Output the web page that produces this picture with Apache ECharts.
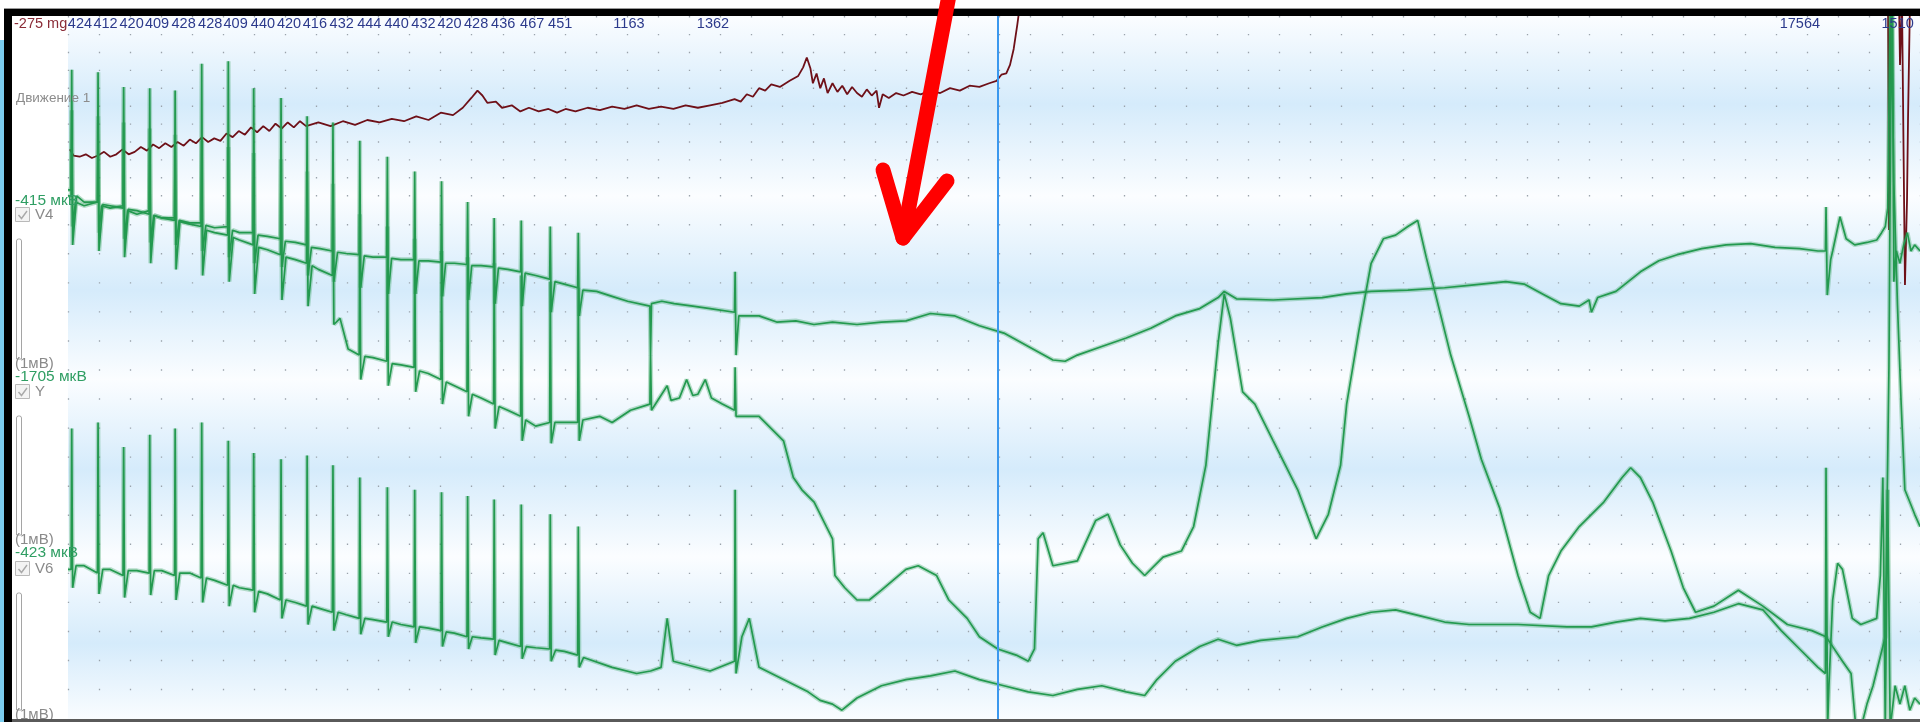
<!DOCTYPE html>
<html><head><meta charset="utf-8">
<script src="https://cdn.jsdelivr.net/npm/echarts@6/dist/echarts.min.js"></script>
<style>html,body{margin:0;padding:0;background:#fff}#c{width:1920px;height:722px}</style>
</head><body><div id="c"></div>
<script>
// RR intervals (ms) printed along the top, one per beat interval
const rrIntervals = [424,412,420,409,428,428,409,440,420,416,432,444,440,432,420,428,436,467,451,1163,1362,17564,1510];
const cursorTime = 14914; // ms
// Motion channel (mg-like units) : [time ms, value]
const motionTrace = [[-31,-220],[29,-270],[127,-280],[226,-260],[324,-290],[423,-270],[521,-240],[620,-280],[719,-260],[817,-220],[916,-260],[1014,-240],[1113,-200],[1211,-230],[1310,-180],[1408,-210],[1507,-170],[1605,-200],[1704,-160],[1803,-190],[1901,-140],[2000,-170],[2098,-120],[2197,-160],[2295,-130],[2394,-150],[2492,-90],[2591,-120],[2689,-70],[2788,-100],[2887,-40],[2985,-80],[3084,-30],[3182,-70],[3281,-10],[3379,-50],[3478,0],[3576,-40],[3675,10],[3774,-30],[3971,0],[4168,-30],[4365,10],[4562,-20],[4759,20],[4956,0],[5153,30],[5350,10],[5547,50],[5745,20],[5942,80],[6139,60],[6296,120],[6434,200],[6533,260],[6612,220],[6691,160],[6829,170],[6927,120],[7085,140],[7223,90],[7361,120],[7518,90],[7676,110],[7814,80],[7952,110],[8110,90],[8307,120],[8504,100],[8701,130],[8898,110],[9095,140],[9292,110],[9489,130],[9687,110],[9884,140],[10081,120],[10278,140],[10475,160],[10672,190],[10771,170],[10869,230],[10968,210],[11066,280],[11165,260],[11263,310],[11401,290],[11559,340],[11697,380],[11776,450],[11835,530],[11894,440],[11933,320],[11992,400],[12052,280],[12111,360],[12170,240],[12249,320],[12328,250],[12406,300],[12485,230],[12564,290],[12643,240],[12722,210],[12801,270],[12880,220],[12958,260],[12998,120],[13057,230],[13155,200],[13274,240],[13392,220],[13530,250],[13668,230],[13826,260],[13983,240],[14141,280],[14299,260],[14456,300],[14614,290],[14772,320],[14890,340],[14968,390],[15047,400],[15107,470],[15166,600],[15225,800],[15264,950],[15303,1000]];
const motionEnd = [[29243,1000],[29259,-878],[29291,1000],[29420,1000],[29436,469],[29468,1000],[29500,1000],[29516,-1327],[29549,-633],[29565,20],[29597,1000]];
// ECG channels (mV) : [time ms, value]
const v4Trace = [[-60,0.00],[-10,0.00],[0,1.03],[15,-0.25],[60,-0.05],[200,-0.08],[414,-0.05],[424,1.01],[439,-0.30],[480,-0.08],[620,-0.10],[826,-0.08],[836,0.89],[851,-0.35],[900,-0.12],[1050,-0.15],[1246,-0.12],[1256,0.88],[1271,-0.38],[1320,-0.16],[1450,-0.18],[1655,-0.18],[1665,0.86],[1680,-0.40],[1730,-0.2],[1900,-0.22],[2083,-0.22],[2093,1.08],[2108,-0.45],[2160,-0.24],[2300,-0.26],[2511,-0.25],[2521,1.10],[2536,-0.50],[2590,-0.28],[2700,-0.30],[2920,-0.30],[2930,0.88],[2945,-0.55],[3000,-0.32],[3150,-0.33],[3360,-0.35],[3370,0.80],[3385,-0.58],[3440,-0.37],[3600,-0.38],[3780,-0.40],[3790,0.65],[3805,-0.65],[3860,-0.42],[4000,-0.43],[4196,-0.45],[4206,0.60],[4221,-0.70],[4280,-0.46],[4420,-0.47],[4628,-0.48],[4638,0.45],[4653,-0.75],[4710,-0.49],[4850,-0.50],[5072,-0.50],[5082,0.32],[5097,-0.80],[5150,-0.51],[5300,-0.52],[5512,-0.52],[5522,0.20],[5537,-0.80],[5590,-0.53],[5740,-0.53],[5944,-0.54],[5954,0.12],[5969,-0.82],[6020,-0.55],[6160,-0.55],[6364,-0.56],[6374,-0.05],[6389,-0.85],[6440,-0.57],[6590,-0.57],[6792,-0.58],[6802,-0.18],[6817,-0.88],[6870,-0.59],[7020,-0.60],[7228,-0.62],[7238,-0.20],[7253,-0.90],[7300,-0.63],[7470,-0.65],[7695,-0.68],[7705,-0.25],[7720,-0.95],[7780,-0.70],[7930,-0.72],[8146,-0.75],[8156,-0.30],[8171,-0.98],[8230,-0.77],[8450,-0.78],[8700,-0.82],[8950,-0.86],[9309,-0.90],[9319,-1.30],[9334,-0.88],[9500,-0.86],[9700,-0.88],[10000,-0.90],[10280,-0.92],[10671,-0.95],[10681,-0.62],[10696,-1.30],[10740,-0.98],[11066,-0.98],[11350,-1.03],[11658,-1.02],[11950,-1.05],[12249,-1.03],[12643,-1.05],[13037,-1.03],[13431,-1.02],[13826,-0.96],[14220,-0.98],[14614,-1.06],[15008,-1.12],[15402,-1.23],[15797,-1.34],[15994,-1.35],[16191,-1.30],[16585,-1.23],[16979,-1.16],[17373,-1.08],[17768,-0.98],[18162,-0.92],[18458,-0.83],[18556,-0.78],[18753,-0.84],[19344,-0.85],[20133,-0.83],[20527,-0.80],[20921,-0.78],[21512,-0.77],[22104,-0.75],[22498,-0.73],[23089,-0.70],[23385,-0.72],[23681,-0.80],[23977,-0.88],[24272,-0.90],[24430,-0.85],[24469,-0.95],[24568,-0.83],[24863,-0.78],[25257,-0.62],[25553,-0.53],[25849,-0.48],[26243,-0.43],[26637,-0.40],[27031,-0.39],[27425,-0.42],[27820,-0.43],[28116,-0.45],[28235,-0.45],[28245,-0.09],[28265,-0.81],[28320,-0.52],[28352,-0.45],[28470,-0.17],[28569,-0.35],[28707,-0.40],[28904,-0.38],[29061,-0.36],[29140,-0.30],[29199,-0.25],[29238,-0.10],[29278,1.50],[29317,1.50],[29337,-0.70],[29376,-0.45],[29435,-0.55],[29495,-0.40],[29554,-0.30],[29613,-0.45],[29672,-0.40],[29760,-0.45]];
const yTrace = [[-60,1.50],[-10,1.50],[0,2.15],[15,1.05],[80,1.45],[200,1.40],[414,1.40],[424,2.10],[439,1.00],[500,1.38],[620,1.37],[826,1.35],[836,2.05],[851,0.95],[910,1.34],[1050,1.33],[1246,1.30],[1256,2.00],[1271,0.90],[1330,1.29],[1450,1.27],[1655,1.25],[1665,1.95],[1680,0.85],[1740,1.24],[1900,1.22],[2083,1.20],[2093,1.90],[2108,0.80],[2170,1.17],[2300,1.15],[2511,1.13],[2521,1.85],[2536,0.75],[2600,1.11],[2700,1.09],[2920,1.05],[2930,1.80],[2945,0.65],[3010,1.03],[3150,1.01],[3360,0.97],[3370,1.75],[3385,0.60],[3450,0.95],[3600,0.93],[3780,0.90],[3790,1.65],[3805,0.55],[3870,0.88],[3971,0.85],[4196,0.80],[4206,1.55],[4221,0.40],[4320,0.45],[4450,0.20],[4628,0.15],[4638,1.30],[4653,-0.05],[4720,0.14],[4850,0.13],[5072,0.10],[5082,1.20],[5097,-0.10],[5160,0.08],[5300,0.07],[5512,0.05],[5522,1.10],[5537,-0.15],[5600,0.02],[5740,0.00],[5944,-0.05],[5954,1.00],[5969,-0.25],[6030,-0.07],[6160,-0.10],[6364,-0.15],[6374,0.95],[6389,-0.35],[6450,-0.17],[6590,-0.20],[6792,-0.25],[6802,0.90],[6817,-0.45],[6880,-0.27],[7020,-0.30],[7228,-0.35],[7238,0.80],[7253,-0.55],[7310,-0.38],[7470,-0.43],[7695,-0.40],[7705,0.75],[7720,-0.57],[7780,-0.40],[7930,-0.40],[8146,-0.40],[8156,0.70],[8171,-0.55],[8230,-0.38],[8500,-0.35],[8701,-0.40],[8997,-0.30],[9309,-0.25],[9319,0.15],[9334,-0.30],[9587,-0.10],[9650,-0.22],[9784,-0.20],[9900,-0.05],[10000,-0.18],[10080,-0.17],[10200,-0.05],[10300,-0.20],[10475,-0.25],[10671,-0.30],[10681,0.05],[10696,-0.35],[11066,-0.35],[11460,-0.55],[11618,-0.85],[11756,-0.95],[11953,-1.05],[12150,-1.25],[12249,-1.35],[12288,-1.65],[12446,-1.75],[12643,-1.85],[12840,-1.85],[13037,-1.77],[13431,-1.60],[13629,-1.57],[13925,-1.65],[14122,-1.85],[14417,-2.00],[14614,-2.15],[14910,-2.25],[15206,-2.30],[15402,-2.35],[15501,-2.25],[15560,-1.35],[15639,-1.30],[15797,-1.57],[16191,-1.53],[16487,-1.20],[16684,-1.15],[16881,-1.40],[17078,-1.55],[17275,-1.65],[17570,-1.50],[17866,-1.45],[18063,-1.25],[18260,-0.75],[18458,0.25],[18556,0.65],[18655,0.45],[18852,-0.15],[19049,-0.25],[19344,-0.55],[19739,-0.95],[20035,-1.35],[20232,-1.15],[20429,-0.75],[20527,-0.25],[20724,0.35],[20921,0.90],[21118,1.10],[21315,1.13],[21512,1.20],[21670,1.25],[21808,0.95],[22005,0.55],[22202,0.15],[22498,-0.35],[22695,-0.70],[22991,-1.10],[23286,-1.65],[23483,-1.95],[23641,-2.00],[23779,-1.65],[23977,-1.45],[24272,-1.25],[24667,-1.05],[24962,-0.85],[25100,-0.77],[25257,-0.85],[25454,-1.05],[25750,-1.45],[25947,-1.75],[26144,-1.95],[26440,-1.90],[26834,-1.77],[27228,-1.90],[27623,-2.05],[28017,-2.10],[28245,-2.15],[28312,-2.20],[28510,-2.35],[28648,-2.45],[28727,-2.90],[28805,-2.90],[28904,-2.70],[29002,-2.55],[29100,-2.35],[29199,-2.15],[29258,0.05],[29297,2.95],[29337,1.55],[29396,0.55],[29455,-0.25],[29514,-0.95],[29594,-1.05],[29672,-1.15],[29760,-1.25]];
const v6Trace = [[-60,-0.15],[-10,-0.15],[0,1.00],[15,-0.30],[70,-0.12],[200,-0.12],[414,-0.18],[424,1.05],[439,-0.35],[500,-0.15],[620,-0.15],[826,-0.20],[836,0.85],[851,-0.38],[910,-0.16],[1050,-0.16],[1246,-0.18],[1256,0.95],[1271,-0.36],[1330,-0.16],[1450,-0.16],[1655,-0.20],[1665,1.00],[1680,-0.40],[1740,-0.18],[1900,-0.18],[2083,-0.22],[2093,1.05],[2108,-0.42],[2170,-0.22],[2300,-0.24],[2511,-0.28],[2521,0.90],[2536,-0.45],[2600,-0.28],[2700,-0.30],[2920,-0.32],[2930,0.80],[2945,-0.50],[3010,-0.33],[3150,-0.35],[3360,-0.40],[3370,0.75],[3385,-0.55],[3450,-0.40],[3600,-0.42],[3780,-0.45],[3790,0.78],[3805,-0.60],[3870,-0.45],[4000,-0.47],[4196,-0.50],[4206,0.70],[4221,-0.65],[4290,-0.50],[4420,-0.52],[4628,-0.55],[4638,0.60],[4653,-0.68],[4720,-0.55],[4850,-0.56],[5072,-0.58],[5082,0.52],[5097,-0.70],[5160,-0.58],[5300,-0.60],[5512,-0.62],[5522,0.50],[5537,-0.75],[5600,-0.62],[5740,-0.63],[5944,-0.65],[5954,0.48],[5969,-0.78],[6030,-0.66],[6160,-0.67],[6364,-0.70],[6374,0.45],[6389,-0.80],[6450,-0.70],[6590,-0.71],[6792,-0.72],[6802,0.42],[6817,-0.85],[6880,-0.73],[7020,-0.75],[7228,-0.78],[7238,0.38],[7253,-0.88],[7320,-0.78],[7470,-0.79],[7695,-0.80],[7705,0.30],[7720,-0.90],[7790,-0.81],[7930,-0.82],[8146,-0.85],[8156,0.20],[8171,-0.95],[8240,-0.87],[8701,-0.95],[9095,-1.00],[9319,-0.98],[9489,-0.95],[9587,-0.55],[9685,-0.90],[10278,-0.98],[10671,-0.90],[10681,0.50],[10696,-1.00],[10790,-0.70],[10909,-0.55],[11066,-0.95],[11460,-1.05],[11855,-1.15],[12050,-1.22],[12249,-1.25],[12400,-1.30],[12643,-1.20],[13037,-1.10],[13431,-1.05],[13826,-1.02],[14220,-0.98],[14614,-1.05],[15008,-1.10],[15402,-1.15],[15797,-1.18],[16191,-1.13],[16585,-1.10],[16979,-1.15],[17275,-1.18],[17472,-1.05],[17768,-0.90],[18162,-0.78],[18458,-0.72],[18753,-0.77],[19147,-0.73],[19739,-0.70],[20133,-0.62],[20527,-0.55],[20921,-0.50],[21315,-0.48],[21710,-0.53],[22104,-0.58],[22498,-0.60],[23286,-0.60],[24075,-0.62],[24469,-0.62],[24863,-0.58],[25257,-0.55],[25652,-0.57],[26046,-0.55],[26440,-0.50],[26834,-0.43],[27228,-0.48],[27524,-0.65],[27820,-0.80],[28116,-0.95],[28235,-1.00],[28245,0.68],[28270,-1.45],[28292,-1.10],[28352,-0.40],[28431,-0.10],[28510,-0.15],[28569,-0.30],[28668,-0.55],[28805,-0.60],[28963,-0.57],[29061,-0.55],[29120,-0.20],[29160,0.60],[29199,-1.45],[29238,0.50],[29278,-1.45],[29357,-1.10],[29435,-1.25],[29514,-1.10],[29594,-1.30],[29672,-1.20],[29760,-1.25]];
// channel header texts
const channelNames = ['Движение 1','V4','Y','V6'];
const channelOffsets = ['-275 mg','-415 мкВ','-1705 мкВ','-423 мкВ'];
const scaleText = '(1мВ)';

const GREEN = '#23994f', MAROON = '#6e1018';
const chart = echarts.init(document.getElementById('c'));
const F = '"Liberation Sans", Arial, sans-serif';

function txt(x,y,s,fill,size){return {type:'text',x:x,y:y,z:20,silent:true,style:{text:s,fill:fill,font:(size||13)+'px '+F,align:'left',verticalAlign:'middle'}};}
function checkbox(y,label){return [
 {type:'rect',z:20,shape:{x:15.5,y:y-7.5,width:14,height:14},style:{fill:'#f3f3f3',stroke:'#b9b9b9',lineWidth:1}},
 {type:'polyline',z:21,shape:{points:[[18.5,y],[21.5,y+3.5],[27,y-4]]},style:{stroke:'#a9a9a9',lineWidth:1.4,fill:null}},
 txt(35,y,label,'#8a8a8a',15)];}
function bar(y1,y2){return [{type:'rect',z:20,shape:{x:16.5,y:y1,width:5,height:y2-y1,r:[2,2,0,0]},style:{fill:'#ffffff',stroke:'#a5a5a5',lineWidth:1}}];}

const BL='#d5ebfb', WH='#fbfdff';
const statics = [
 {type:'rect',z:-10,silent:true,shape:{x:68,y:16,width:1852,height:706},style:{fill:new echarts.graphic.LinearGradient(0,0,0,1,[
  {offset:0,color:WH},{offset:0.125,color:BL},{offset:0.255,color:WH},{offset:0.388,color:BL},
  {offset:0.515,color:WH},{offset:0.642,color:BL},{offset:0.766,color:WH},{offset:0.888,color:BL},{offset:1,color:WH}])}},
 {type:'rect',z:30,silent:true,shape:{x:4,y:8,width:1916,height:1},style:{fill:'#9a9a9a'}},
 {type:'rect',z:30,silent:true,shape:{x:4,y:9,width:1916,height:7},style:{fill:'#000'}},
 {type:'rect',z:30,silent:true,shape:{x:4,y:9,width:8,height:713},style:{fill:'#000'}},
 {type:'rect',z:30,silent:true,shape:{x:0,y:40,width:4,height:682},style:{fill:'#7ccdee'}},
 {type:'rect',z:30,silent:true,shape:{x:12,y:719,width:1908,height:3},style:{fill:'#5a5a5a'}},
 txt(14,24,channelOffsets[0],'#8a2b36',14.5),
 txt(16,98,channelNames[0],'#8c8c8c',13.5),
 txt(15,201,channelOffsets[1],'#2f9e63',15.5), ...checkbox(215,channelNames[1]), ...bar(239,359), txt(15,364,scaleText,'#8a8a8a',15),
 txt(15,377,channelOffsets[2],'#2f9e63',15.5), ...checkbox(392,channelNames[2]), ...bar(416,535), txt(15,540,scaleText,'#8a8a8a',15),
 txt(15,553,channelOffsets[3],'#2f9e63',15.5), ...checkbox(569,channelNames[3]), ...bar(593,710), txt(15,715,scaleText,'#8a8a8a',15),
 {type:'polyline',z:40,silent:true,shape:{points:[[950,-10],[903,238]]},style:{stroke:'#ff0000',lineWidth:15,lineCap:'round',fill:null}},
 {type:'polyline',z:40,silent:true,shape:{points:[[883,170],[903,238],[947,181]]},style:{stroke:'#ff0000',lineWidth:15,lineCap:'round',lineJoin:'round',fill:null}}
];

const SPAN = 706/122.45; // 1 mV = 122.45 px
function mvAxis(zeroPx){const max=(zeroPx-16)/122.45;return {gridIndex:0,type:'value',show:false,min:max-SPAN,max:max};}
const dotAxis = (gi,dash)=>({gridIndex:gi,type:'value',min:0,max:29818,interval:500,axisLine:{show:false},axisTick:{show:false},axisLabel:{show:false},
  splitLine:{show:true,lineStyle:{color:'#9aa3ab',width:1.3,type:dash}}});

function ecg(data,yi,extra){
  return [
   {type:'line',xAxisIndex:0,yAxisIndex:yi,data:data,showSymbol:false,silent:true,lineStyle:{color:GREEN,width:4.5,opacity:0.3},z:3},
   Object.assign({type:'line',xAxisIndex:0,yAxisIndex:yi,data:data,showSymbol:false,silent:true,lineStyle:{color:GREEN,width:1.7},z:4},extra||{})];
}

const option = {
 animation:false,
 grid:[{left:68,right:0,top:16,height:706},{left:68,right:0,top:16,height:179},{left:68,right:0,top:195,height:522.9}],
 xAxis:[{gridIndex:0,type:'value',min:-60,max:29758,show:false}, dotAxis(1,[1.4,16.5]), dotAxis(2,[1.4,27.65])],
 yAxis:[
  {gridIndex:0,type:'value',show:false,min:(100-589.6)*10,max:(100-13.07)*10},
  mvAxis(160*1.2245), mvAxis(305*1.2245), mvAxis(450*1.2245),
  {gridIndex:1,type:'value',show:false},{gridIndex:2,type:'value',show:false}],
 series:[
  {type:'line',xAxisIndex:0,yAxisIndex:0,data:motionTrace,showSymbol:false,silent:true,lineStyle:{color:MAROON,width:1.8},z:3},
  {type:'line',xAxisIndex:0,yAxisIndex:0,data:motionEnd,showSymbol:false,silent:true,lineStyle:{color:MAROON,width:1.8},z:3},
  ...ecg(v4Trace,1,{markLine:{silent:true,symbol:'none',label:{show:false},lineStyle:{color:'#3b98ee',width:2,type:'solid'},data:[{xAxis:cursorTime}]}}),
  ...ecg(yTrace,2),
  ...ecg(v6Trace,3)
 ],
 graphic:statics
};
chart.setOption(option);

const beats=[0]; rrIntervals.forEach((r,i)=>beats.push(beats[i]+r));
const labels = rrIntervals.map((r,i)=>{
  const px = chart.convertToPixel({xAxisIndex:0}, beats[i+1]);
  return {type:'text',z:25,silent:true,x:px-6,y:24,style:{text:String(r),fill:'#2c3a8c',font:'14.5px '+F,align:'right',verticalAlign:'middle'}};
});
chart.setOption({graphic:statics.concat(labels)});
</script></body></html>
